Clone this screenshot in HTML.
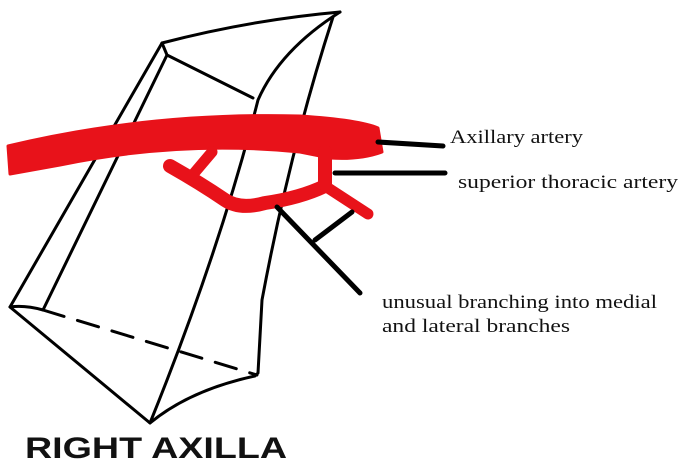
<!DOCTYPE html>
<html><head><style>html,body{margin:0;padding:0;background:#fff;}svg{display:block}</style></head>
<body>
<svg width="686" height="473" viewBox="0 0 686 473" xmlns="http://www.w3.org/2000/svg">
<g fill="none" stroke="#000" stroke-width="3" stroke-linejoin="round" stroke-linecap="round">
<path d="M10,307 L162,43 Q250,20 340,12"/>
<path d="M162,43 L167,55 L253,98"/>
<path d="M167,55 L43,310"/>
<path d="M340,12 Q280,50 258,100 Q220,250 150,423"/>
<path d="M333,17 Q290,150 262,300 L258,373 L255,376 Q190,390 150,423 L10,307 Q25,305 43,310"/>
<path d="M43,310 L257,375" stroke-dasharray="22,14"/>
</g>
<g fill="#e8121a" stroke="#e8121a" stroke-linejoin="round" stroke-linecap="round">
<path d="M8,146 Q150,112 300,116 Q360,120 378,128 L382,152 Q360,160 330,158 L300,152 Q180,140 60,165 L10,174 Z" stroke-width="3"/>
<path fill="none" stroke-width="14" d="M325,152 L325,186 Q300,198 265,203 Q240,210 225,200 Q200,183 170,166"/>
<path fill="none" stroke-width="11" d="M190,178 L212,152"/>
<path fill="none" stroke-width="11" d="M325,186 L368,214"/>
</g>
<g stroke="#000" stroke-width="5" stroke-linecap="round" fill="none">
<path d="M378,142 L443,146"/>
<path d="M335,173 L445,173"/>
<path d="M277,207 L360,293"/>
<path d="M315,240 L352,212"/>
</g>
<g font-family="Liberation Serif, serif" font-size="19" fill="#111">
<text x="450" y="143" textLength="133" lengthAdjust="spacingAndGlyphs">Axillary artery</text>
<text x="458" y="188" textLength="220" lengthAdjust="spacingAndGlyphs">superior thoracic artery</text>
<text x="382" y="308" textLength="275" lengthAdjust="spacingAndGlyphs">unusual branching into medial</text>
<text x="382" y="332" textLength="188" lengthAdjust="spacingAndGlyphs">and lateral branches</text>
</g>
<text x="25" y="458" font-family="Liberation Sans, sans-serif" font-weight="bold" font-size="30" fill="#111" textLength="262" lengthAdjust="spacingAndGlyphs">RIGHT AXILLA</text>
</svg>
</body></html>
